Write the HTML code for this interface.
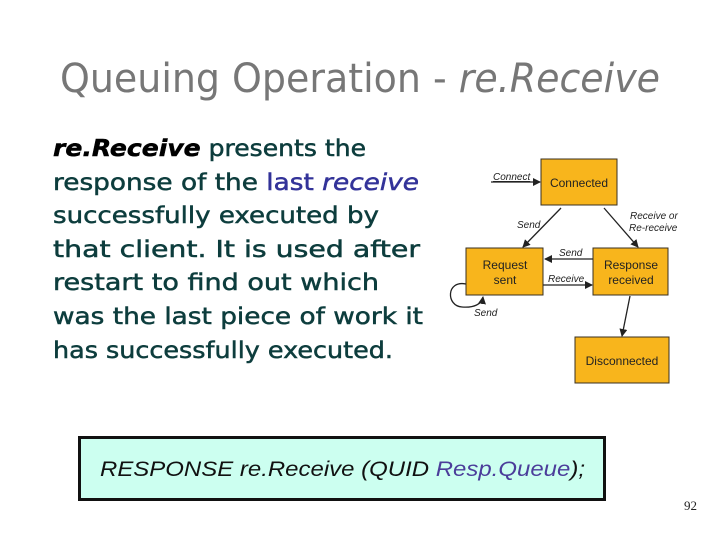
<!DOCTYPE html>
<html><head><meta charset="utf-8"><style>
html,body{margin:0;padding:0;background:#fff;}
svg{display:block;}
</style></head><body>
<svg width="720" height="540" viewBox="0 0 720 540" xmlns="http://www.w3.org/2000/svg">
<defs>
<marker id="a" markerWidth="8" markerHeight="8" refX="7" refY="4" orient="auto" markerUnits="userSpaceOnUse">
<path d="M0,0 L8,4 L0,8 Z" fill="#222"/></marker>
</defs>
<rect width="720" height="540" fill="#fff"/>
<text x="60" y="92" font-family="'DejaVu Sans','Liberation Sans',sans-serif" font-size="40" fill="#777" textLength="600" lengthAdjust="spacingAndGlyphs">Queuing Operation - <tspan font-style="italic">re.Receive</tspan></text>

<g font-family="'DejaVu Sans','Liberation Sans',sans-serif" font-size="23" fill="#0d3d3d" stroke="#0d3d3d" stroke-width="0.5">
<text x="53" y="156" textLength="313" lengthAdjust="spacingAndGlyphs"><tspan font-weight="bold" font-style="italic" fill="#000" stroke="#000">re.Receive</tspan>  presents the</text>
<text x="53" y="190" textLength="366" lengthAdjust="spacingAndGlyphs">response of the <tspan fill="#333399" stroke="#333399">last <tspan font-style="italic">receive</tspan></tspan></text>
<text x="53" y="223" textLength="326" lengthAdjust="spacingAndGlyphs">successfully executed by</text>
<text x="53" y="257" textLength="367" lengthAdjust="spacingAndGlyphs">that client.  It is used after</text>
<text x="53" y="290" textLength="326" lengthAdjust="spacingAndGlyphs">restart to find out which</text>
<text x="53" y="324" textLength="370" lengthAdjust="spacingAndGlyphs">was the last piece of work it</text>
<text x="53" y="358" textLength="340" lengthAdjust="spacingAndGlyphs">has successfully executed.</text>
</g>

<g stroke="#3a3020" stroke-width="1" fill="#f8b51c">
<rect x="541" y="159" width="76" height="46"/>
<rect x="466" y="248" width="77" height="47"/>
<rect x="593" y="248" width="75" height="47"/>
<rect x="575" y="337" width="94" height="46"/>
</g>
<g font-family="'Liberation Sans',sans-serif" font-size="12" fill="#222" text-anchor="middle">
<text x="579" y="187">Connected</text>
<text x="505" y="269">Request</text>
<text x="505" y="284">sent</text>
<text x="631" y="269">Response</text>
<text x="631" y="284">received</text>
<text x="622" y="365">Disconnected</text>
</g>
<g stroke="#222" stroke-width="1.3" fill="none" marker-end="url(#a)">
<line x1="491" y1="182" x2="540" y2="182"/>
<line x1="561" y1="208" x2="523" y2="247"/>
<line x1="604" y1="208" x2="638" y2="247"/>
<line x1="593" y1="259" x2="545" y2="259"/>
<line x1="543" y1="285" x2="592" y2="285"/>
<line x1="630" y1="296" x2="622" y2="336"/>
<path d="M466,284 C446,280 446,306 462,307 C474,308 482,304 483,297"/>
</g>
<g font-family="'Liberation Sans',sans-serif" font-size="10" font-style="italic" fill="#222">
<text x="493" y="180" text-decoration="underline">Connect</text>
<text x="517" y="228">Send</text>
<text x="630" y="219">Receive or</text>
<text x="629" y="231">Re-receive</text>
<text x="559" y="256">Send</text>
<text x="548" y="282">Receive</text>
<text x="474" y="316">Send</text>
</g>

<rect x="79.5" y="437.5" width="525" height="62" fill="#ccfff0" stroke="#111" stroke-width="3"/>
<text x="100" y="476" font-family="'Liberation Sans',sans-serif" font-size="21" font-style="italic" fill="#111" textLength="485" lengthAdjust="spacingAndGlyphs">RESPONSE  re.Receive  (QUID <tspan fill="#4b3d9a">Resp.Queue</tspan>);</text>
<text x="684" y="510" font-family="'Liberation Serif',serif" font-size="13" fill="#222">92</text>
</svg>
</body></html>
